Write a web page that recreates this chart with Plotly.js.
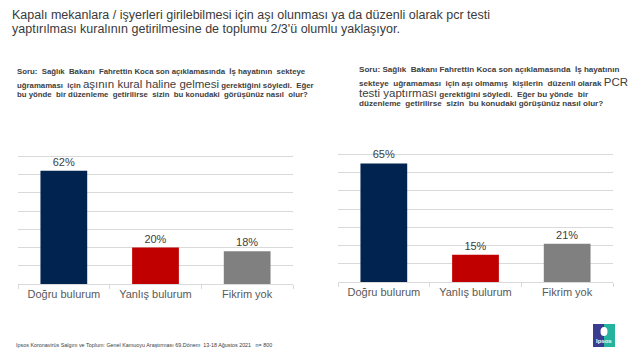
<!DOCTYPE html>
<html>
<head>
<meta charset="utf-8">
<script src="https://cdn.plot.ly/plotly-3.0.1.min.js"></script>
<style>html,body{margin:0;padding:0;background:#fff;}#chart{width:640px;height:360px;}</style>
</head>
<body>
<div id="chart"></div>
<script>
// ---- data ----
const categories = ["Doğru bulurum", "Yanlış bulurum", "Fikrim yok"];
const leftValues = [62, 20, 18];   // aşının kural haline gelmesi
const rightValues = [65, 15, 21];  // aşı olmamış kişilere düzenli PCR testi
const barColors = ["#00234F", "#C00000", "#808080"];
const titleLines = [
  "Kapalı mekanlara / işyerleri girilebilmesi için aşı olunması ya da düzenli olarak pcr testi",
  "yaptırılması kuralının getirilmesine de toplumu 2/3'ü olumlu yaklaşıyor."
];
const leftQuestion = [
  "<b>Soru:  Sağlık  Bakanı  Fahrettin Koca son açıklamasında  İş hayatının  sekteye</b>",
  "<b>uğramaması  için</b> <span style='font-size:11.5px'>aşının kural haline gelmesi</span> <b>gerektiğini söyledi.  Eğer</b>",
  "<b>bu yönde  bir düzenleme  getirilirse  sizin  bu konudaki  görüşünüz nasıl  olur?</b>"
];
const rightQuestion = [
  "<b>Soru: Sağlık  Bakanı Fahrettin Koca son açıklamasında  İş hayatının</b>",
  "<b>sekteye  uğramaması  için aşı olmamış  kişilerin  düzenli olarak</b> <span style='font-size:11.5px'>PCR</span>",
  "<span style='font-size:11.5px'>testi yaptırması</span> <b>gerektiğini söyledi.  Eğer bu yönde  bir</b>",
  "<b>düzenleme  getirilirse  sizin  bu konudaki görüşünüz nasıl olur?</b>"
];
const footerText = "Ipsos Koronavirüs Salgını ve Toplum: Genel Kamuoyu Araştırması 69.Dönem  13-18 Ağustos 2021   n= 800";

const FONT = "Arial, 'Liberation Sans', sans-serif";

function barTrace(vals, xa, ya) {
  return {
    type: "bar", x: categories, y: vals, xaxis: xa, yaxis: ya,
    marker: {color: barColors},
    texttemplate: "%{y}%", textposition: "outside",
    textfont: {size: 11, color: "#404040", family: FONT},
    cliponaxis: false, hoverinfo: "skip", showlegend: false
  };
}

const W = 640, H = 360;
const px = v => v / W, py = v => 1 - v / H;

const xaxisBase = {
  type: "category", showline: true, linecolor: "#d9d9d9", linewidth: 1,
  ticks: "outside", tickson: "boundaries", ticklen: 4, tickcolor: "#d9d9d9",
  tickfont: {size: 11, color: "#595959", family: FONT}, showgrid: false, fixedrange: true
};
const yaxisBase = {
  range: [0, 80], dtick: 10, showgrid: true, gridcolor: "#d9d9d9", gridwidth: 1,
  zeroline: false, showticklabels: false, ticks: "", fixedrange: true
};

const annotations = [];
const titleY = [15, 29];
titleLines.forEach((t, i) => annotations.push({
  xref: "paper", yref: "paper", x: px(10), y: py(titleY[i]), xanchor: "left", yanchor: "middle",
  align: "left", showarrow: false, text: t, font: {size: 12.5, color: "#3a3a3a", family: FONT}
}));
const leftY = [72, 84, 95];
leftQuestion.forEach((t, i) => annotations.push({
  xref: "paper", yref: "paper", x: px(15), y: py(leftY[i]), xanchor: "left", yanchor: "middle",
  align: "left", showarrow: false, text: t, font: {size: 7.8, color: "#404040", family: FONT}
}));
const rightY = [70, 82, 93, 103];
rightQuestion.forEach((t, i) => annotations.push({
  xref: "paper", yref: "paper", x: px(357), y: py(rightY[i]), xanchor: "left", yanchor: "middle",
  align: "left", showarrow: false, text: t, font: {size: 8.1, color: "#404040", family: FONT}
}));
annotations.push({
  xref: "paper", yref: "paper", x: px(14), y: py(345), xanchor: "left", yanchor: "middle",
  showarrow: false, text: footerText, font: {size: 5.4, color: "#404040", family: FONT}
});
annotations.push({
  xref: "paper", yref: "paper", x: px(604), y: py(341), xanchor: "center", yanchor: "middle",
  showarrow: false, text: "<b>Ipsos</b>", font: {size: 6, color: "#ffffff", family: FONT}
});

const shapes = [
  {type: "rect", xref: "paper", yref: "paper", x0: px(593), x1: px(604), y0: py(347), y1: py(324), fillcolor: "#3A3D8F", line: {width: 0}},
  {type: "rect", xref: "paper", yref: "paper", x0: px(604), x1: px(615), y0: py(347), y1: py(324), fillcolor: "#25B3A0", line: {width: 0}},
  {type: "circle", xref: "paper", yref: "paper", x0: px(600.5), x1: px(607.5), y0: py(336), y1: py(327), fillcolor: "#ffffff", line: {width: 0}}
];

const layout = {
  width: W, height: H, margin: {l: 0, r: 0, t: 0, b: 0},
  paper_bgcolor: "#ffffff", plot_bgcolor: "#ffffff",
  font: {family: FONT, color: "#404040"},
  bargap: 0.49,
  xaxis: Object.assign({}, xaxisBase, {domain: [px(18), px(293)], anchor: "y"}),
  yaxis: Object.assign({}, yaxisBase, {domain: [py(284), py(138)], anchor: "x"}),
  xaxis2: Object.assign({}, xaxisBase, {domain: [px(338), px(613)], anchor: "y2"}),
  yaxis2: Object.assign({}, yaxisBase, {domain: [py(282), py(136)], anchor: "x2"}),
  annotations: annotations, shapes: shapes
};

Plotly.newPlot("chart", [barTrace(leftValues, "x", "y"), barTrace(rightValues, "x2", "y2")], layout, {staticPlot: true, displayModeBar: false});
</script>
</body>
</html>
